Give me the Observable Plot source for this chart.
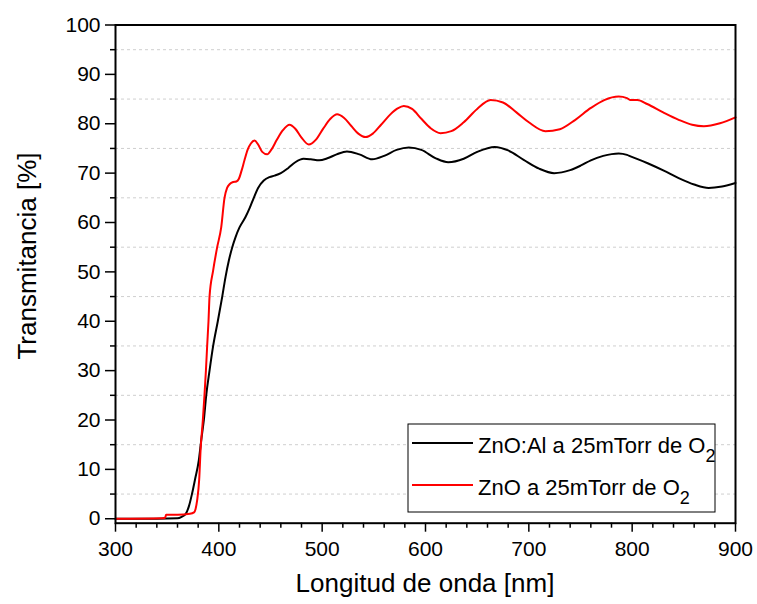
<!DOCTYPE html>
<html><head><meta charset="utf-8">
<script src="https://cdn.jsdelivr.net/npm/d3@7"></script>
<script src="https://cdn.jsdelivr.net/npm/@observablehq/plot@0.6"></script>
<style>body{margin:0;background:#fff} svg{font-family:"Liberation Sans",Arial,sans-serif}</style>
</head><body><div id="chart"></div>
<script>
// ZnO:Al a 25mTorr de O2 (black)
const zalWl = [300,340,360,364,368,371,374,377,380.6,383,385.5,387.8,391,394.5,399,403.3,406.5,409.7,413,416.1,420,425.8,430,433.8,438,443.5,449,454,460,467,474,482,489,497,505,514,524,536,548.4,560,572,583.9,596,610,622,637,650,667,680,695,710,724.5,740,750,760,772,787,795,798.4,815,830.6,845,860,874,887,900];
const zalT  = [0.0,0.0,0.1,0.4,1.0,2.5,5.0,8.0,11.8,16,20,25,30,35,40,45,49,52.3,55,57,59,61.1,63,65,67,68.5,69.2,69.5,70.0,71.0,72.2,72.9,72.8,72.6,73.0,73.8,74.4,73.8,72.8,73.5,74.7,75.2,74.7,73.0,72.2,72.9,74.3,75.3,74.6,72.7,70.9,70.0,70.6,71.5,72.6,73.5,74.0,73.7,73.4,72.0,70.5,69.0,67.7,67.0,67.3,68.0];
// ZnO a 25mTorr de O2 (red)
const znoWl = [300,345,348,349,360,372,376,377.5,379,381,382.3,384.5,386.1,387.5,388.7,390,391,394.5,398.4,402.3,405.5,408,410.6,414,417,419.3,422,424.8,428,431,434.5,438,442,446.8,451,456,462,468.4,474,480,487,494,501,508,514.5,521,528,535,542,549,557,566,573,579,587,596,605,614.5,625,637,650,663,675,688,700,716,730,745,760,773,787,795,798.4,805,814.5,830,845,858,869.4,885,900];
const znoT  = [0.0,0.1,0.2,0.8,0.8,1.0,1.3,2.0,3.7,8,13.8,19.9,25,30,35,40,45,50.3,55,59,65,67,67.8,68.2,68.3,68.8,70.5,72.6,74.8,76.0,76.6,75.8,74.3,73.8,74.8,76.7,78.7,79.8,79.0,77.2,75.8,76.8,79.0,81.0,81.9,81.2,79.6,78.0,77.3,78.0,79.8,81.9,83.1,83.6,83.0,81.0,79.1,78.1,78.5,80.3,83.0,84.8,84.3,82.3,80.3,78.5,78.9,80.8,83.2,84.8,85.5,85.2,84.8,84.8,84.0,82.3,80.8,79.8,79.5,80.1,81.3];

const seriesNames = ["ZnO:Al a 25mTorr de O", "ZnO a 25mTorr de O"];
const seriesSub = ["2", "2"];
const seriesColors = ["#000000", "#ff0000"];

const xMajor = [300,400,500,600,700,800,900];
const xMinor = [320,340,360,380,420,440,460,480,520,540,560,580,620,640,660,680,720,740,760,780,820,840,860,880];
const yMajor = [0,10,20,30,40,50,60,70,80,90,100];
const yMinor = [5,15,25,35,45,55,65,75,85,95];
const xTitle = "Longitud de onda [nm]";
const yTitle = "Transmitancia [%]";

const zal = zalWl.map((w,i)=>({w, t: zalT[i]}));
const zno = znoWl.map((w,i)=>({w, t: znoT[i]}));

const plot = Plot.plot({
  width: 757, height: 604,
  marginLeft: 115, marginRight: 22, marginTop: 24.5, marginBottom: 81.3,
  x: {domain: [300, 900]},
  y: {domain: [-0.9, 100]},
  style: {fontFamily: '"Liberation Sans", Arial, sans-serif', fontSize: "21px", color: "#000", background: "#fff"},
  marks: [
    Plot.gridY(yMinor, {stroke: "#cfcfcf", strokeOpacity: 1, strokeDasharray: "3,3"}),
    Plot.line(zal, {x: "w", y: "t", stroke: seriesColors[0], strokeWidth: 2, curve: "monotone-x"}),
    Plot.line(zno, {x: "w", y: "t", stroke: seriesColors[1], strokeWidth: 2, curve: "monotone-x"}),
    Plot.axisX(xMajor, {tickSize: 9, tickPadding: 9, label: null, fontSize: 21, strokeWidth: 1.5}),
    Plot.axisX(xMinor, {tickSize: 5, text: null, label: null, strokeWidth: 1.5}),
    Plot.axisY(yMajor, {tickSize: 10, tickPadding: 5, label: null, fontSize: 21, strokeWidth: 1.5}),
    Plot.axisY(yMinor, {tickSize: 5, text: null, label: null, strokeWidth: 1.5}),
    Plot.frame({stroke: "#000", strokeWidth: 2})
  ]
});
document.getElementById("chart").appendChild(plot);

const svg = d3.select(plot);
svg.append("text").attr("x", 425).attr("y", 592).attr("text-anchor", "middle")
  .attr("font-size", 26).attr("fill", "#000").text(xTitle);
svg.append("text").attr("transform", "translate(36,256) rotate(-90)").attr("text-anchor", "middle")
  .attr("font-size", 26).attr("fill", "#000").text(yTitle);

const lg = svg.append("g").attr("text-anchor", "start");
lg.append("rect").attr("x", 408).attr("y", 424).attr("width", 307).attr("height", 88)
  .attr("fill", "#fff").attr("stroke", "#000").attr("stroke-width", 1);
seriesNames.forEach((name, i) => {
  const yy = 443 + i * 42;
  lg.append("line").attr("x1", 412).attr("x2", 473).attr("y1", yy).attr("y2", yy)
    .attr("stroke", seriesColors[i]).attr("stroke-width", 2);
  const t = lg.append("text").attr("x", 478).attr("y", yy + 10).attr("font-size", 22)
    .attr("text-anchor", "start").attr("fill", "#000");
  t.append("tspan").text(name);
  t.append("tspan").attr("font-size", 18).attr("dy", 9).text(seriesSub[i]);
});
</script>
</body></html>
